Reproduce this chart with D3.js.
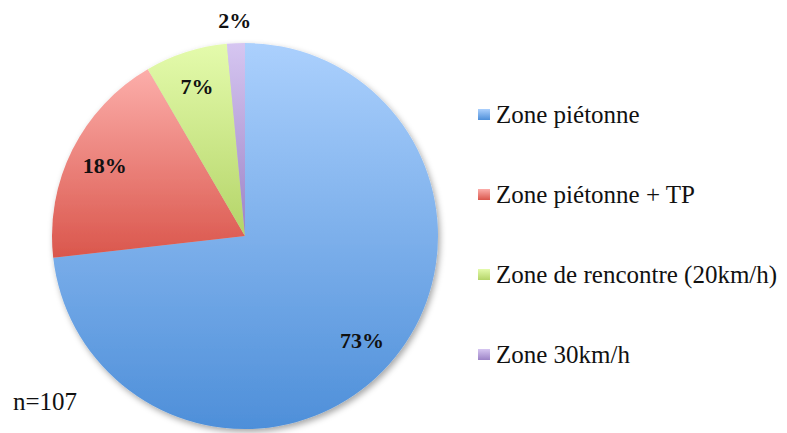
<!DOCTYPE html>
<html>
<head>
<meta charset="UTF-8">
<title>Zones</title>
<script src="https://cdnjs.cloudflare.com/ajax/libs/d3/7.8.5/d3.min.js"></script>
<style>
  body { margin: 0; background: #fff; }
</style>
</head>
<body>
<div id="chart"></div>
<script>
// shares (%); n=107
var categories = ["Zone piétonne", "Zone piétonne + TP", "Zone de rencontre (20km/h)", "Zone 30km/h"];
var shares = [73.2, 18.4, 6.9, 1.5];
var total = 107;
var topColors = ["#abd0fd", "#fcaeaa", "#e4fbac", "#d6c6f1"];
var bottomColors = ["#4e8fd9", "#da564c", "#b4d468", "#9c83c6"];

var font = "'Liberation Serif', 'Times New Roman', 'DejaVu Serif', serif";

var w = 787, h = 433,
    cx = 245, cy = 236, radius = 193;

var svg = d3.select("#chart").append("svg")
    .attr("width", w)
    .attr("height", h);

var defs = svg.append("defs");

var shadow = defs.append("filter")
    .attr("id", "shadow")
    .attr("x", "-10%").attr("y", "-10%")
    .attr("width", "125%").attr("height", "125%");
shadow.append("feDropShadow")
    .attr("dx", 2).attr("dy", 3)
    .attr("stdDeviation", 3)
    .attr("flood-color", "#000")
    .attr("flood-opacity", 0.35);

categories.forEach(function(c, i) {
    var g = defs.append("linearGradient")
        .attr("id", "grad" + i)
        .attr("x1", 0).attr("y1", 0)
        .attr("x2", 0).attr("y2", 1);
    g.append("stop").attr("offset", "0%").attr("stop-color", topColors[i]);
    g.append("stop").attr("offset", "100%").attr("stop-color", bottomColors[i]);
});

var pie = d3.pie().sort(null).value(function(d) { return d; });
var arcs = pie(shares);

var arc = d3.arc().innerRadius(0).outerRadius(radius);
var labelArc = d3.arc().innerRadius(157).outerRadius(157);
var outerLabelArc = d3.arc().innerRadius(216).outerRadius(216);

var g = svg.append("g")
    .attr("transform", "translate(" + cx + "," + cy + ")");

g.append("g")
    .attr("filter", "url(#shadow)")
    .selectAll("path")
    .data(arcs)
    .enter()
    .append("path")
    .attr("d", arc)
    .attr("fill", function(d, i) { return "url(#grad" + i + ")"; });

g.selectAll("text.pct")
    .data(arcs)
    .enter()
    .append("text")
    .attr("class", "pct")
    .attr("transform", function(d) {
        var p = (d.value < 5 ? outerLabelArc : labelArc).centroid(d);
        return "translate(" + p[0] + "," + p[1] + ")";
    })
    .attr("text-anchor", "middle")
    .attr("dy", "0.35em")
    .attr("font-family", font)
    .attr("font-size", "22px")
    .attr("font-weight", "bold")
    .attr("fill", "#111")
    .text(function(d) { return Math.round(d.value) + "%"; });

// legend
var y = d3.scalePoint()
    .domain(categories)
    .range([116, 356]);

var legend = svg.append("g").selectAll("g")
    .data(categories)
    .enter()
    .append("g")
    .attr("transform", function(d) { return "translate(478," + y(d) + ")"; });

legend.append("rect")
    .attr("x", 0).attr("y", -7)
    .attr("width", 12).attr("height", 11)
    .attr("fill", function(d, i) { return "url(#grad" + i + ")"; });

legend.append("text")
    .attr("x", 18)
    .attr("y", 7)
    .attr("font-family", font)
    .attr("font-size", "25px")
    .attr("fill", "#111")
    .text(function(d) { return d; });

svg.append("text")
    .attr("x", 13)
    .attr("y", 410)
    .attr("font-family", font)
    .attr("font-size", "25px")
    .attr("fill", "#111")
    .text("n=" + total);
</script>
</body>
</html>
